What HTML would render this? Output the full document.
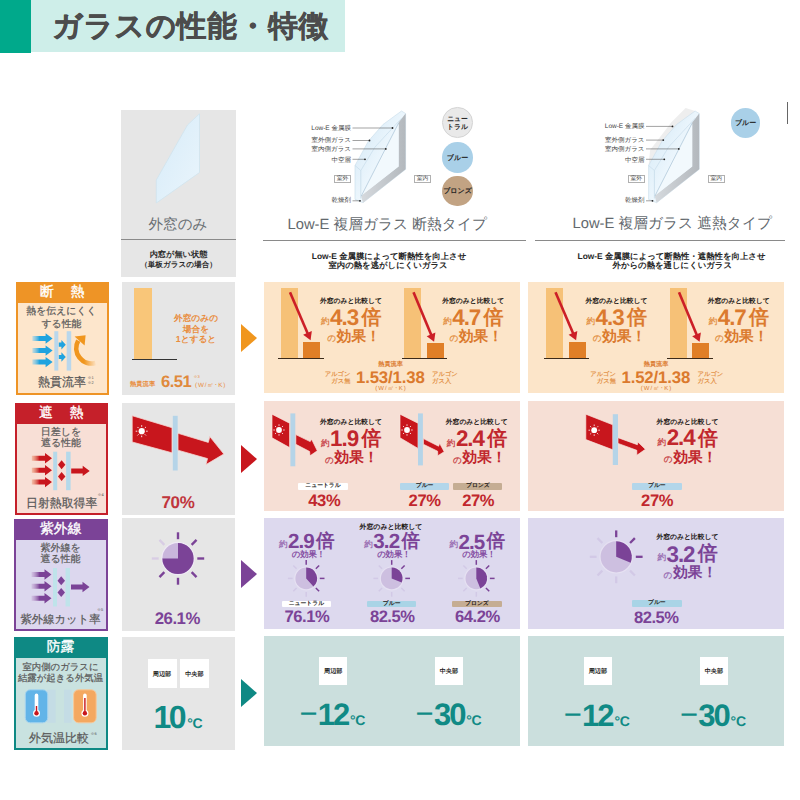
<!DOCTYPE html>
<html lang="ja">
<head>
<meta charset="utf-8">
<title>ガラスの性能・特徴</title>
<style>
*{box-sizing:border-box;margin:0;padding:0}
html,body{width:800px;height:800px;background:#fff;overflow:hidden}
body{position:relative;font-family:"Liberation Sans",sans-serif;color:#333;text-rendering:geometricPrecision}
.a{position:absolute}
svg{position:absolute;left:0;top:0;overflow:visible}
.tri{width:0;height:0;border-style:solid;border-color:transparent;border-width:14.5px 0 14.5px 16.5px;left:240.5px}
.lb{border:2.5px solid}
.lh{height:21px;color:#fff;font-size:13.8px;-webkit-text-stroke:0.35px #fff;line-height:20.5px;text-align:center;white-space:nowrap}
</style>
</head>
<body>
<!-- title -->
<div class="a" style="left:0.00px;top:0.00px;width:30.70px;height:52.60px;background:#00a98b;"></div>
<div class="a" style="left:30.70px;top:0.00px;width:314.60px;height:52.40px;background:#ceeee9;"></div>
<div class="a x" style="top:8.00px;font-size:29.6px;line-height:37.0px;color:#4c4c4c;white-space:nowrap;font-weight:bold;letter-spacing:0.85px;left:52.30px;-webkit-text-stroke:0.5px #4c4c4c;">ガラスの性能・特徴</div>
<!-- column headers -->
<div class="a" style="left:120.50px;top:110.00px;width:115.00px;height:167.00px;background:#e6e6e6;"></div>
<div class="a" style="left:120.50px;top:239.10px;width:115.00px;height:1.10px;background:#8a8a8a;"></div>
<div class="a" style="left:263.00px;top:239.50px;width:263.00px;height:1.10px;background:#8a8a8a;"></div>
<div class="a" style="left:535.00px;top:239.50px;width:250.00px;height:1.10px;background:#8a8a8a;"></div>
<div class="a" style="left:786.50px;top:102.00px;width:1.50px;height:22.00px;background:#666;"></div>
<!-- grid cells -->
<div class="a" style="left:122.30px;top:282.00px;width:112.70px;height:112.50px;background:#e6e6e6;"></div>
<div class="a" style="left:122.30px;top:402.50px;width:112.70px;height:112.30px;background:#e6e6e6;"></div>
<div class="a" style="left:122.30px;top:518.30px;width:112.70px;height:112.30px;background:#e6e6e6;"></div>
<div class="a" style="left:122.30px;top:636.70px;width:112.70px;height:113.30px;background:#e6e6e6;"></div>
<div class="a" style="left:264.00px;top:282.00px;width:256.00px;height:110.50px;background:#fce5c9;"></div>
<div class="a" style="left:528.30px;top:282.00px;width:255.70px;height:110.50px;background:#fce5c9;"></div>
<div class="a" style="left:264.00px;top:401.00px;width:256.00px;height:110.00px;background:#f6dfd5;"></div>
<div class="a" style="left:528.30px;top:401.00px;width:255.70px;height:110.00px;background:#f6dfd5;"></div>
<div class="a" style="left:264.00px;top:518.00px;width:256.00px;height:110.50px;background:#ddd9ee;"></div>
<div class="a" style="left:528.30px;top:518.00px;width:255.70px;height:110.50px;background:#ddd9ee;"></div>
<div class="a" style="left:264.00px;top:635.50px;width:256.00px;height:110.20px;background:#cbdfdd;"></div>
<div class="a" style="left:528.30px;top:635.50px;width:255.70px;height:110.20px;background:#cbdfdd;"></div>
<!-- row labels -->
<div class="a lb" style="left:16px;top:282px;width:92.5px;height:112.5px;border-color:#ee9426;background:#fde6cc"></div>
<div class="a lh" style="left:16px;top:282px;width:92.5px;background:#ee9426"><span style="letter-spacing:1.5px;margin-right:-1.5px">断　熱</span></div>
<div class="a lb" style="left:14.5px;top:402.5px;width:93.5px;height:112.5px;border-color:#c5202a;background:#f8dfd6"></div>
<div class="a lh" style="left:14.5px;top:402.5px;width:93.5px;background:#c5202a"><span style="letter-spacing:1.5px;margin-right:-1.5px">遮　熱</span></div>
<div class="a lb" style="left:14px;top:518.5px;width:93.5px;height:112.0px;border-color:#7b4397;background:#dcd7ee"></div>
<div class="a lh" style="left:14px;top:518.5px;width:93.5px;background:#7b4397">紫外線</div>
<div class="a lb" style="left:13.5px;top:637px;width:94.0px;height:113px;border-color:#0e8984;background:#c9e2e0"></div>
<div class="a lh" style="left:13.5px;top:637px;width:94.0px;background:#0e8984">防露</div>
<!-- triangles -->
<div class="a tri" style="top:323.5px;border-left-color:#f0961e"></div>
<div class="a tri" style="top:444.5px;border-left-color:#c8161d"></div>
<div class="a tri" style="top:560px;border-left-color:#7b4397"></div>
<div class="a tri" style="top:679px;border-left-color:#0e8984"></div>
<!-- label contents -->
<div class="a x" style="top:305.99px;font-size:9.9px;line-height:12.38px;color:#595959;white-space:nowrap;left:-88.50px;width:300px;text-align:center;-webkit-text-stroke:0.22px #595959;">熱を伝えにくく</div>
<div class="a x" style="top:318.70px;font-size:9.9px;line-height:12.38px;color:#595959;white-space:nowrap;left:-88.50px;width:300px;text-align:center;-webkit-text-stroke:0.22px #595959;">する性能</div>
<div class="a x" style="top:374.50px;font-size:12px;line-height:15.0px;color:#595959;white-space:nowrap;left:-88.00px;width:300px;text-align:center;-webkit-text-stroke:0.22px #595959;">熱貫流率</div>
<div class="a x" style="top:375.39px;font-size:4.0px;line-height:5.0px;color:#595959;white-space:nowrap;left:87.50px;">※1</div>
<div class="a x" style="top:380.00px;font-size:4.0px;line-height:5.0px;color:#595959;white-space:nowrap;left:87.50px;">※2</div>
<div class="a x" style="top:426.75px;font-size:10px;line-height:12.5px;color:#595959;white-space:nowrap;left:-89.00px;width:300px;text-align:center;-webkit-text-stroke:0.22px #595959;">日差しを</div>
<div class="a x" style="top:437.93px;font-size:10px;line-height:12.5px;color:#595959;white-space:nowrap;left:-89.00px;width:300px;text-align:center;-webkit-text-stroke:0.22px #595959;">遮る性能</div>
<div class="a x" style="top:495.53px;font-size:11.9px;line-height:14.88px;color:#595959;white-space:nowrap;left:-88.30px;width:300px;text-align:center;-webkit-text-stroke:0.22px #595959;">日射熱取得率</div>
<div class="a x" style="top:492.00px;font-size:4.0px;line-height:5.0px;color:#595959;white-space:nowrap;left:97.50px;">※4</div>
<div class="a x" style="top:542.75px;font-size:10px;line-height:12.5px;color:#595959;white-space:nowrap;left:-89.50px;width:300px;text-align:center;-webkit-text-stroke:0.22px #595959;">紫外線を</div>
<div class="a x" style="top:554.25px;font-size:10px;line-height:12.5px;color:#595959;white-space:nowrap;left:-89.50px;width:300px;text-align:center;-webkit-text-stroke:0.22px #595959;">遮る性能</div>
<div class="a x" style="top:613.44px;font-size:11.3px;line-height:14.12px;color:#595959;white-space:nowrap;left:-89.50px;width:300px;text-align:center;-webkit-text-stroke:0.22px #595959;">紫外線カット率</div>
<div class="a x" style="top:607.00px;font-size:4.0px;line-height:5.0px;color:#595959;white-space:nowrap;left:97.00px;">※5</div>
<div class="a x" style="top:661.11px;font-size:9.4px;line-height:11.75px;color:#595959;white-space:nowrap;left:-89.50px;width:300px;text-align:center;-webkit-text-stroke:0.22px #595959;">室内側のガラスに</div>
<div class="a x" style="top:671.98px;font-size:9.4px;line-height:11.75px;color:#595959;white-space:nowrap;left:-89.50px;width:300px;text-align:center;-webkit-text-stroke:0.22px #595959;">結露が起きる外気温</div>
<div class="a x" style="top:730.50px;font-size:12px;line-height:15.0px;color:#595959;white-space:nowrap;left:-91.00px;width:300px;text-align:center;-webkit-text-stroke:0.22px #595959;">外気温比較</div>
<div class="a x" style="top:731.00px;font-size:4.0px;line-height:5.0px;color:#595959;white-space:nowrap;left:90.50px;">※6</div>
<svg width="800" height="800" viewBox="0 0 800 800">
<defs>
<linearGradient id="gb" gradientUnits="userSpaceOnUse" x1="30" x2="39.5" y1="0" y2="0"><stop offset="0" stop-color="#9ad6f3" stop-opacity="0.25"/><stop offset="1" stop-color="#1fa3df"/></linearGradient>
<linearGradient id="gr" gradientUnits="userSpaceOnUse" x1="30" x2="39.5" y1="0" y2="0"><stop offset="0" stop-color="#f3a66f" stop-opacity="0.25"/><stop offset="1" stop-color="#c8161d"/></linearGradient>
<linearGradient id="gp" gradientUnits="userSpaceOnUse" x1="30" x2="39.5" y1="0" y2="0"><stop offset="0" stop-color="#cfb3dc" stop-opacity="0.25"/><stop offset="1" stop-color="#7b4397"/></linearGradient>
<linearGradient id="go" gradientUnits="userSpaceOnUse" x1="84" x2="96.5" y1="0" y2="0"><stop offset="0" stop-color="#f0961e"/><stop offset="1" stop-color="#f0961e" stop-opacity="0"/></linearGradient>
</defs>
<rect x="54.3" y="331.2" width="4" height="39.4" fill="#b9d7ec"/><rect x="66.7" y="331.2" width="4.5" height="39.4" fill="#b9d7ec"/>
<path d="M32.4 336.0H45.6V333.3L52.6 338.5L45.6 343.7V341.0H32.4Z" fill="url(#gb)"/>
<path d="M32.4 348.1H45.6V345.4L52.6 350.6L45.6 355.8V353.1H32.4Z" fill="url(#gb)"/>
<path d="M32.4 359.6H45.6V356.9L52.6 362.1L45.6 367.3V364.6H32.4Z" fill="url(#gb)"/>
<path d="M58.8 342.59999999999997H61.4V340.0L65.8 344.7L61.4 349.4V346.8H58.8Z" fill="#1fa3df"/>
<path d="M58.8 354.9H61.4V352.3L65.8 357.0L61.4 361.7V359.1H58.8Z" fill="#1fa3df"/>
<path d="M95.5 363.0A15.4 15.4 0 0 1 78.2 340.6" fill="none" stroke="url(#go)" stroke-width="4.7"/>
<path d="M74.6 336.6L85.6 335.2L84.6 345.6Z" fill="#f0961e"/>
<rect x="53.2" y="451.7" width="4" height="38.5" fill="#b5d9ea"/><rect x="66.1" y="451.7" width="4.5" height="38.5" fill="#b5d9ea"/>
<path d="M31.8 455.8H45.0V453.1L52.0 458.3L45.0 463.5V460.8H31.8Z" fill="url(#gr)"/>
<path d="M31.8 467.8H45.0V465.1L52.0 470.3L45.0 475.5V472.8H31.8Z" fill="url(#gr)"/>
<path d="M31.8 479.6H45.0V476.9L52.0 482.1L45.0 487.3V484.6H31.8Z" fill="url(#gr)"/>
<path d="M58 464.7L61.6 460.2L65.4 464.7L61.6 469.2Z" fill="#c8161d"/>
<path d="M58 476.5L61.6 472.0L65.4 476.5L61.6 481.0Z" fill="#c8161d"/>
<path d="M71.2 468.4H82.7V465.7L89.7 470.9L82.7 476.1V473.4H71.2Z" fill="#c8161d"/>
<rect x="53" y="568" width="4" height="38.5" fill="#bfe3ea"/><rect x="65.5" y="568" width="4.5" height="38.5" fill="#bfe3ea"/>
<path d="M31.5 572.0H44.5V569.3L51.5 574.5L44.5 579.7V577.0H31.5Z" fill="url(#gp)"/>
<path d="M31.5 583.8H44.5V581.1L51.5 586.3L44.5 591.5V588.8H31.5Z" fill="url(#gp)"/>
<path d="M31.5 595.8H44.5V593.1L51.5 598.3L44.5 603.5V600.8H31.5Z" fill="url(#gp)"/>
<path d="M57.5 580.8L61.2 576.3L65 580.8L61.2 585.3Z" fill="#7b4397"/>
<path d="M57.5 592.5L61.2 588.0L65 592.5L61.2 597.0Z" fill="#7b4397"/>
<path d="M71.0 584.5H82.5V581.8L89.5 587.0L82.5 592.2V589.5H71.0Z" fill="#7b4397"/>
<rect x="47" y="689.8" width="8.7" height="33" fill="#c3dbe6" opacity="0.8"/><rect x="64" y="689.8" width="7.5" height="33" fill="#c3dbe6" opacity="0.8"/>
<rect x="25.3" y="689.8" width="22.4" height="33" rx="5" fill="#62b4e8" stroke="#a6d4ef" stroke-width="1"/>
<rect x="73.6" y="689.8" width="22.6" height="33" rx="5" fill="#f4a860" stroke="#f6c99b" stroke-width="1"/>
<rect x="34.7" y="693.6" width="3.6" height="19" rx="1.8" fill="#fff"/><circle cx="36.5" cy="713.2" r="3.5" fill="#fff"/>
<rect x="83.10000000000001" y="693.6" width="3.6" height="19" rx="1.8" fill="#fff"/><circle cx="84.9" cy="713.2" r="3.5" fill="#fff"/>
<rect x="35.8" y="706" width="1.4" height="7" fill="#c8161d"/><circle cx="36.5" cy="713.2" r="2.2" fill="#c8161d"/>
<rect x="84.2" y="698" width="1.4" height="15" fill="#c8161d"/><circle cx="84.9" cy="713.2" r="2.2" fill="#c8161d"/>
</svg>
<!-- col2 -->
<div class="a x" style="top:216.38px;font-size:14.6px;line-height:18.25px;color:#6a7074;white-space:nowrap;left:28.00px;width:300px;text-align:center;">外窓のみ</div>
<div class="a x" style="top:249.77px;font-size:8.2px;line-height:10.25px;color:#2b2b2b;white-space:nowrap;font-weight:bold;left:28.50px;width:300px;text-align:center;">内窓が無い状態</div>
<div class="a x" style="top:260.14px;font-size:7.6px;line-height:9.5px;color:#2b2b2b;white-space:nowrap;font-weight:bold;left:28.50px;width:300px;text-align:center;">（単板ガラスの場合）</div>
<div class="a" style="left:133.70px;top:288.20px;width:18.10px;height:70.60px;background:#f9c679;"></div>
<div class="a" style="left:131.50px;top:358.60px;width:45.80px;height:1.10px;background:#333;"></div>
<div class="a x" style="top:313.14px;font-size:8.7px;line-height:10.88px;color:#e98d3e;white-space:nowrap;font-weight:bold;left:46.00px;width:300px;text-align:center;">外窓のみの</div>
<div class="a x" style="top:324.14px;font-size:8.7px;line-height:10.88px;color:#e98d3e;white-space:nowrap;font-weight:bold;left:46.00px;width:300px;text-align:center;">場合を</div>
<div class="a x" style="top:333.95px;font-size:8.7px;line-height:10.88px;color:#e98d3e;white-space:nowrap;font-weight:bold;left:46.00px;width:300px;text-align:center;">1とすると</div>
<div class="a x" style="top:381.45px;font-size:6.3px;line-height:7.88px;color:#e98d3e;white-space:nowrap;font-weight:bold;left:130.00px;">熱貫流率</div>
<div class="a x" style="top:372.40px;font-size:16.6px;line-height:20.75px;color:#e08a3c;white-space:nowrap;font-weight:bold;letter-spacing:-0.55px;left:161.00px;">6.51</div>
<div class="a x" style="top:374.39px;font-size:4.0px;line-height:5.0px;color:#e98d3e;white-space:nowrap;left:193.50px;">※3</div>
<div class="a x" style="top:382.45px;font-size:6.3px;line-height:7.88px;color:#e98d3e;white-space:nowrap;letter-spacing:0.8px;left:195.00px;">(W/㎡･K)</div>
<div class="a x" style="top:491.95px;font-size:17px;line-height:21.25px;color:#c0353c;white-space:nowrap;font-weight:bold;letter-spacing:-0.3px;left:28.00px;width:300px;text-align:center;">70%</div>
<div class="a x" style="top:607.89px;font-size:16.8px;line-height:21.0px;color:#7b4397;white-space:nowrap;font-weight:bold;letter-spacing:-0.5px;left:27.30px;width:300px;text-align:center;">26.1%</div>
<div class="a" style="left:147.50px;top:658.50px;width:29.00px;height:29.30px;background:#fff;"></div>
<div class="a" style="left:179.80px;top:658.50px;width:29.20px;height:29.30px;background:#fff;"></div>
<div class="a x" style="top:670.69px;font-size:6.1px;line-height:7.62px;color:#222;white-space:nowrap;font-weight:bold;left:12.00px;width:300px;text-align:center;">周辺部</div>
<div class="a x" style="top:670.69px;font-size:6.1px;line-height:7.62px;color:#222;white-space:nowrap;font-weight:bold;left:44.40px;width:300px;text-align:center;">中央部</div>
<div class="a" style="left:153.4px;top:697px;white-space:nowrap;color:#108a85;font-weight:bold;font-size:32px;line-height:40px;letter-spacing:-2.4px">10<span style="font-size:14px;letter-spacing:-0.3px;margin-left:3.0px">°C</span></div>
<svg width="800" height="800" viewBox="0 0 800 800">
<defs><linearGradient id="gl1" x1="0" y1="0" x2="1" y2="1"><stop offset="0" stop-color="#d6ebf8"/><stop offset="1" stop-color="#eaf5fc"/></linearGradient></defs>
<path d="M199.5 113.8V172.5L156.3 203V180L187.5 125Z" fill="url(#gl1)" stroke="#cfe3ee" stroke-width="0.8"/>
<path d="M132.2 415.7L172 427.7V452.8L132.2 442Z" fill="#c8161d" stroke="#f6d3cf" stroke-width="0.8"/>
<rect x="172.8" y="415.8" width="4.9" height="54.7" fill="#b5d4e8"/>
<path d="M178 433.3L208.3 442.4L209.8 436.6L223.8 454L206 464.6L207.5 458.6L178 450.2Z" fill="#c8161d" stroke="#f6d3cf" stroke-width="0.8"/>
<circle cx="141.7" cy="431.2" r="3.1" fill="#fff"/><line x1="146.10" y1="431.20" x2="147.70" y2="431.20" stroke="#fff" stroke-width="0.9"/><line x1="144.81" y1="434.31" x2="145.94" y2="435.44" stroke="#fff" stroke-width="0.9"/><line x1="141.70" y1="435.60" x2="141.70" y2="437.20" stroke="#fff" stroke-width="0.9"/><line x1="138.59" y1="434.31" x2="137.46" y2="435.44" stroke="#fff" stroke-width="0.9"/><line x1="137.30" y1="431.20" x2="135.70" y2="431.20" stroke="#fff" stroke-width="0.9"/><line x1="138.59" y1="428.09" x2="137.46" y2="426.96" stroke="#fff" stroke-width="0.9"/><line x1="141.70" y1="426.80" x2="141.70" y2="425.20" stroke="#fff" stroke-width="0.9"/><line x1="144.81" y1="428.09" x2="145.94" y2="426.96" stroke="#fff" stroke-width="0.9"/>
<circle cx="178" cy="558.5" r="16.8" fill="#efe9f5"/><circle cx="178" cy="558.5" r="15.6" fill="#c9b6dc"/><path d="M178 558.5L178 542.9A15.6 15.6 0 1 1 162.40 558.50Z" fill="#7b4397"/><line x1="178.00" y1="539.20" x2="178.00" y2="532.30" stroke="#7b4397" stroke-width="2.4" stroke-linecap="butt"/><line x1="191.65" y1="544.85" x2="196.53" y2="539.97" stroke="#7b4397" stroke-width="2.4" stroke-linecap="butt"/><line x1="197.30" y1="558.50" x2="204.20" y2="558.50" stroke="#7b4397" stroke-width="2.4" stroke-linecap="butt"/><line x1="191.65" y1="572.15" x2="196.53" y2="577.03" stroke="#7b4397" stroke-width="2.4" stroke-linecap="butt"/><line x1="178.00" y1="577.80" x2="178.00" y2="584.70" stroke="#7b4397" stroke-width="2.4" stroke-linecap="butt"/><line x1="164.35" y1="572.15" x2="159.47" y2="577.03" stroke="#7b4397" stroke-width="2.4" stroke-linecap="butt"/><line x1="158.70" y1="558.50" x2="151.80" y2="558.50" stroke="#d8cde4" stroke-width="2.4" stroke-linecap="butt"/><line x1="164.35" y1="544.85" x2="159.47" y2="539.97" stroke="#d8cde4" stroke-width="2.4" stroke-linecap="butt"/>
</svg>
<!-- col3/4 headers -->
<div class="a x" style="top:216.36px;font-size:14.75px;line-height:18.44px;color:#62686d;white-space:nowrap;left:237.30px;width:300px;text-align:center;">Low-E 複層ガラス 断熱タイプ</div>
<div class="a x" style="top:214.96px;font-size:14.75px;line-height:18.44px;color:#62686d;white-space:nowrap;left:522.30px;width:300px;text-align:center;">Low-E 複層ガラス 遮熱タイプ</div>
<div class="a x" style="top:250.75px;font-size:8.4px;line-height:10.5px;color:#262626;white-space:nowrap;font-weight:bold;left:239.00px;width:300px;text-align:center;">Low-E 金属膜によって断熱性を向上させ</div>
<div class="a x" style="top:260.33px;font-size:8.4px;line-height:10.5px;color:#262626;white-space:nowrap;font-weight:bold;left:238.00px;width:300px;text-align:center;">室内の熱を逃がしにくいガラス</div>
<div class="a x" style="top:250.75px;font-size:8.4px;line-height:10.5px;color:#262626;white-space:nowrap;font-weight:bold;left:521.50px;width:300px;text-align:center;">Low-E 金属膜によって断熱性・遮熱性を向上させ</div>
<div class="a x" style="top:260.33px;font-size:8.4px;line-height:10.5px;color:#262626;white-space:nowrap;font-weight:bold;left:522.30px;width:300px;text-align:center;">外からの熱を通しにくいガラス</div>
<div class="a x" style="top:124.94px;font-size:6.5px;line-height:8.12px;color:#444;white-space:nowrap;left:51.00px;width:300px;text-align:right;">Low-E 金属膜</div>
<div class="a x" style="top:137.44px;font-size:6.5px;line-height:8.12px;color:#444;white-space:nowrap;left:51.00px;width:300px;text-align:right;">室外側ガラス</div>
<div class="a x" style="top:145.62px;font-size:6.5px;line-height:8.12px;color:#444;white-space:nowrap;left:51.00px;width:300px;text-align:right;">室内側ガラス</div>
<div class="a x" style="top:156.83px;font-size:6.5px;line-height:8.12px;color:#444;white-space:nowrap;left:51.00px;width:300px;text-align:right;">中空層</div>
<div class="a x" style="top:197.33px;font-size:6.5px;line-height:8.12px;color:#444;white-space:nowrap;left:51.00px;width:300px;text-align:right;">乾燥剤</div>
<div class="a x" style="top:123.12px;font-size:6.5px;line-height:8.12px;color:#444;white-space:nowrap;left:344.50px;width:300px;text-align:right;">Low-E 金属膜</div>
<div class="a x" style="top:137.23px;font-size:6.5px;line-height:8.12px;color:#444;white-space:nowrap;left:344.50px;width:300px;text-align:right;">室外側ガラス</div>
<div class="a x" style="top:145.62px;font-size:6.5px;line-height:8.12px;color:#444;white-space:nowrap;left:344.50px;width:300px;text-align:right;">室内側ガラス</div>
<div class="a x" style="top:156.83px;font-size:6.5px;line-height:8.12px;color:#444;white-space:nowrap;left:344.50px;width:300px;text-align:right;">中空層</div>
<div class="a x" style="top:197.33px;font-size:6.5px;line-height:8.12px;color:#444;white-space:nowrap;left:344.50px;width:300px;text-align:right;">乾燥剤</div>
<div class="a" style="left:333.8px;top:175px;width:17.399999999999977px;height:8.300000000000011px;background:#fff;border:0.6px solid #b0b0b0;font-size:5.8px;line-height:7.100000000000011px;text-align:center;color:#444;white-space:nowrap">室外</div>
<div class="a" style="left:413.8px;top:175px;width:17.399999999999977px;height:8.300000000000011px;background:#fff;border:0.6px solid #b0b0b0;font-size:5.8px;line-height:7.100000000000011px;text-align:center;color:#444;white-space:nowrap">室内</div>
<div class="a" style="left:627.5px;top:175px;width:17.5px;height:8.300000000000011px;background:#fff;border:0.6px solid #b0b0b0;font-size:5.8px;line-height:7.100000000000011px;text-align:center;color:#444;white-space:nowrap">室外</div>
<div class="a" style="left:707.5px;top:175px;width:17.5px;height:8.300000000000011px;background:#fff;border:0.6px solid #b0b0b0;font-size:5.8px;line-height:7.100000000000011px;text-align:center;color:#444;white-space:nowrap">室内</div>
<div class="a" style="left:442.2px;top:107.3px;width:30.6px;height:30.6px;border-radius:50%;background:#e9e9e9;border:0.8px solid #d4d4d4;"></div>
<div class="a" style="left:442.2px;top:142.39999999999998px;width:30.6px;height:30.6px;border-radius:50%;background:#a9d0e8;"></div>
<div class="a" style="left:442.2px;top:175.89999999999998px;width:30.6px;height:30.6px;border-radius:50%;background:#c2a383;"></div>
<div class="a" style="left:730.8000000000001px;top:108.0px;width:29.6px;height:29.6px;border-radius:50%;background:#a9d0e8;"></div>
<div class="a x" style="top:115.83px;font-size:6.8px;line-height:8.5px;color:#222;white-space:nowrap;font-weight:bold;left:307.50px;width:300px;text-align:center;">ニュー</div>
<div class="a x" style="top:123.83px;font-size:6.8px;line-height:8.5px;color:#222;white-space:nowrap;font-weight:bold;left:307.50px;width:300px;text-align:center;">トラル</div>
<div class="a x" style="top:154.70px;font-size:7px;line-height:8.75px;color:#222;white-space:nowrap;font-weight:bold;left:307.50px;width:300px;text-align:center;">ブルー</div>
<div class="a x" style="top:188.20px;font-size:7px;line-height:8.75px;color:#222;white-space:nowrap;font-weight:bold;left:307.50px;width:300px;text-align:center;">ブロンズ</div>
<div class="a x" style="top:119.98px;font-size:7px;line-height:8.75px;color:#222;white-space:nowrap;font-weight:bold;left:595.60px;width:300px;text-align:center;">ブルー</div>
<svg width="800" height="800" viewBox="0 0 800 800">
<defs><linearGradient id="gl2" x1="0" y1="0" x2="1" y2="1"><stop offset="0" stop-color="#cfe6f5"/><stop offset="0.55" stop-color="#eef7fd"/><stop offset="1" stop-color="#dcedf8"/></linearGradient><linearGradient id="gf" x1="0" y1="0" x2="1" y2="0"><stop offset="0" stop-color="#d6dade"/><stop offset="1" stop-color="#b3b8bd"/></linearGradient></defs>
<g transform="translate(0 0)"><path d="M355 165.5L368.5 141L383 124.5L401.5 111L405.6 113.5V169.3L363 202.7L355 199.4Z" fill="url(#gl2)" stroke="#c7dce9" stroke-width="0.6"/><path d="M398.6 122.5L405.6 113.5V169.3L363 202.7L361 195.8L398.6 166.6Z" fill="url(#gf)"/><path d="M398.6 124L398.6 166.6L361.5 195.5Z" fill="#f2f9fd"/><path d="M398.6 123L361.3 196" stroke="#a9c3d6" stroke-width="0.7" fill="none"/><path d="M360.8 170.5V198.5" stroke="#c3d9e7" stroke-width="0.7" fill="none"/><path d="M355 165.5L360.8 170.5L375 147L401.8 118" stroke="#c3d9e7" stroke-width="0.6" fill="none"/></g>
<path d="M942.6 0" fill="none"/><g transform="translate(293.6 0)"><path d="M355 165.5L356.5 150L378 122L392 108L401.5 111Z" fill="#ececec" opacity="0.9"/><path d="M355 165.5L368.5 141L383 124.5L401.5 111L405.6 113.5V169.3L363 202.7L355 199.4Z" fill="url(#gl2)" stroke="#c7dce9" stroke-width="0.6"/><path d="M398.6 122.5L405.6 113.5V169.3L363 202.7L361 195.8L398.6 166.6Z" fill="url(#gf)"/><path d="M398.6 124L398.6 166.6L361.5 195.5Z" fill="#f2f9fd"/><path d="M398.6 123L361.3 196" stroke="#a9c3d6" stroke-width="0.7" fill="none"/><path d="M360.8 170.5V198.5" stroke="#c3d9e7" stroke-width="0.7" fill="none"/><path d="M355 165.5L360.8 170.5L375 147L401.8 118" stroke="#c3d9e7" stroke-width="0.6" fill="none"/></g>
<line x1="352.5" y1="128" x2="392.5" y2="128" stroke="#444" stroke-width="0.5"/><circle cx="392.5" cy="128" r="0.9" fill="#222"/><line x1="352.5" y1="140.5" x2="369.5" y2="140.5" stroke="#444" stroke-width="0.5"/><circle cx="369.5" cy="140.5" r="0.9" fill="#222"/><line x1="352.5" y1="148.9" x2="385.8" y2="148.9" stroke="#444" stroke-width="0.5"/><circle cx="385.8" cy="148.9" r="0.9" fill="#222"/><line x1="352.5" y1="159.3" x2="365" y2="159.3" stroke="#444" stroke-width="0.5"/><circle cx="365" cy="159.3" r="0.9" fill="#222"/><line x1="352.5" y1="200.8" x2="360" y2="200.8" stroke="#444" stroke-width="0.5"/><circle cx="360" cy="200.8" r="0.9" fill="#222"/>
<line x1="646.0" y1="126.4" x2="672.5" y2="126.4" stroke="#444" stroke-width="0.5"/><circle cx="672.5" cy="126.4" r="0.9" fill="#222"/><line x1="646.0" y1="140.1" x2="663.3" y2="140.1" stroke="#444" stroke-width="0.5"/><circle cx="663.3" cy="140.1" r="0.9" fill="#222"/><line x1="646.0" y1="148.9" x2="678.8" y2="148.9" stroke="#444" stroke-width="0.5"/><circle cx="678.8" cy="148.9" r="0.9" fill="#222"/><line x1="646.0" y1="159.3" x2="664.3" y2="159.3" stroke="#444" stroke-width="0.5"/><circle cx="664.3" cy="159.3" r="0.9" fill="#222"/><line x1="646.0" y1="200.8" x2="652.5" y2="200.8" stroke="#444" stroke-width="0.5"/><circle cx="652.5" cy="200.8" r="0.9" fill="#222"/>
</svg>
<!-- row1 data -->
<div class="a" style="left:280.70px;top:288.20px;width:17.30px;height:69.80px;background:#f6c177;"></div>
<div class="a" style="left:303.40px;top:341.80px;width:17.10px;height:16.20px;background:#e07f27;"></div>
<div class="a" style="left:278.30px;top:357.80px;width:45.70px;height:1.10px;background:#3a2a1a;"></div>
<div class="a" style="left:404.20px;top:288.20px;width:17.30px;height:69.80px;background:#f6c177;"></div>
<div class="a" style="left:426.90px;top:343.40px;width:17.10px;height:14.60px;background:#e07f27;"></div>
<div class="a" style="left:401.80px;top:357.80px;width:45.70px;height:1.10px;background:#3a2a1a;"></div>
<div class="a x" style="top:298.22px;font-size:6.85px;line-height:8.56px;color:#231815;white-space:nowrap;font-weight:bold;letter-spacing:-0.05px;left:320.00px;">外窓のみと比較して</div>
<div class="a x" style="top:316.31px;font-size:8.6px;line-height:10.75px;color:#e3934a;white-space:nowrap;font-weight:bold;left:321.00px;">約</div>
<div class="a x" style="top:303.50px;font-size:22.4px;line-height:28.0px;color:#db7a2e;white-space:nowrap;font-weight:bold;letter-spacing:-1.05px;left:330.10px;">4.3</div>
<div class="a x" style="top:306.18px;font-size:20.0px;line-height:25.0px;color:#db7a2e;white-space:nowrap;font-weight:bold;left:361.40px;">倍</div>
<div class="a x" style="top:333.31px;font-size:8.6px;line-height:10.75px;color:#e3934a;white-space:nowrap;font-weight:bold;left:327.20px;">の</div>
<div class="a x" style="top:327.97px;font-size:14.6px;line-height:18.25px;color:#db7a2e;white-space:nowrap;font-weight:bold;letter-spacing:0.0px;left:336.80px;">効果！</div>
<div class="a x" style="top:298.22px;font-size:6.85px;line-height:8.56px;color:#231815;white-space:nowrap;font-weight:bold;letter-spacing:-0.05px;left:442.20px;">外窓のみと比較して</div>
<div class="a x" style="top:316.31px;font-size:8.6px;line-height:10.75px;color:#e3934a;white-space:nowrap;font-weight:bold;left:443.20px;">約</div>
<div class="a x" style="top:303.50px;font-size:22.4px;line-height:28.0px;color:#db7a2e;white-space:nowrap;font-weight:bold;letter-spacing:-1.05px;left:452.30px;">4.7</div>
<div class="a x" style="top:306.18px;font-size:20.0px;line-height:25.0px;color:#db7a2e;white-space:nowrap;font-weight:bold;left:483.60px;">倍</div>
<div class="a x" style="top:333.31px;font-size:8.6px;line-height:10.75px;color:#e3934a;white-space:nowrap;font-weight:bold;left:449.40px;">の</div>
<div class="a x" style="top:327.97px;font-size:14.6px;line-height:18.25px;color:#db7a2e;white-space:nowrap;font-weight:bold;letter-spacing:0.0px;left:459.00px;">効果！</div>
<div class="a x" style="top:360.61px;font-size:6.2px;line-height:7.75px;color:#db7a2e;white-space:nowrap;font-weight:bold;left:240.60px;width:300px;text-align:center;">熱貫流率</div>
<div class="a x" style="top:370.74px;font-size:6.3px;line-height:7.88px;color:#e3934a;white-space:nowrap;font-weight:bold;left:50.50px;width:300px;text-align:right;">アルゴン</div>
<div class="a x" style="top:377.74px;font-size:6.3px;line-height:7.88px;color:#e3934a;white-space:nowrap;font-weight:bold;left:50.50px;width:300px;text-align:right;">ガス無</div>
<div class="a x" style="top:370.74px;font-size:6.3px;line-height:7.88px;color:#e3934a;white-space:nowrap;font-weight:bold;left:432.00px;">アルゴン</div>
<div class="a x" style="top:377.74px;font-size:6.3px;line-height:7.88px;color:#e3934a;white-space:nowrap;font-weight:bold;left:432.00px;">ガス入</div>
<div class="a x" style="top:367.29px;font-size:16.8px;line-height:21.0px;color:#db7a2e;white-space:nowrap;font-weight:bold;letter-spacing:-0.15px;left:240.30px;width:300px;text-align:center;">1.53/1.38</div>
<div class="a x" style="top:386.25px;font-size:6px;line-height:7.5px;color:#db7a2e;white-space:nowrap;letter-spacing:1.0px;left:241.00px;width:300px;text-align:center;">(W/㎡･K)</div>
<div class="a" style="left:546.20px;top:288.20px;width:17.30px;height:69.80px;background:#f6c177;"></div>
<div class="a" style="left:568.90px;top:341.80px;width:17.10px;height:16.20px;background:#e07f27;"></div>
<div class="a" style="left:543.80px;top:357.80px;width:45.70px;height:1.10px;background:#3a2a1a;"></div>
<div class="a" style="left:669.70px;top:288.20px;width:17.30px;height:69.80px;background:#f6c177;"></div>
<div class="a" style="left:692.40px;top:343.40px;width:17.10px;height:14.60px;background:#e07f27;"></div>
<div class="a" style="left:667.30px;top:357.80px;width:45.70px;height:1.10px;background:#3a2a1a;"></div>
<div class="a x" style="top:298.22px;font-size:6.85px;line-height:8.56px;color:#231815;white-space:nowrap;font-weight:bold;letter-spacing:-0.05px;left:585.50px;">外窓のみと比較して</div>
<div class="a x" style="top:316.31px;font-size:8.6px;line-height:10.75px;color:#e3934a;white-space:nowrap;font-weight:bold;left:586.50px;">約</div>
<div class="a x" style="top:303.50px;font-size:22.4px;line-height:28.0px;color:#db7a2e;white-space:nowrap;font-weight:bold;letter-spacing:-1.05px;left:595.60px;">4.3</div>
<div class="a x" style="top:306.18px;font-size:20.0px;line-height:25.0px;color:#db7a2e;white-space:nowrap;font-weight:bold;left:626.90px;">倍</div>
<div class="a x" style="top:333.31px;font-size:8.6px;line-height:10.75px;color:#e3934a;white-space:nowrap;font-weight:bold;left:592.70px;">の</div>
<div class="a x" style="top:327.97px;font-size:14.6px;line-height:18.25px;color:#db7a2e;white-space:nowrap;font-weight:bold;letter-spacing:0.0px;left:602.30px;">効果！</div>
<div class="a x" style="top:298.22px;font-size:6.85px;line-height:8.56px;color:#231815;white-space:nowrap;font-weight:bold;letter-spacing:-0.05px;left:707.70px;">外窓のみと比較して</div>
<div class="a x" style="top:316.31px;font-size:8.6px;line-height:10.75px;color:#e3934a;white-space:nowrap;font-weight:bold;left:708.70px;">約</div>
<div class="a x" style="top:303.50px;font-size:22.4px;line-height:28.0px;color:#db7a2e;white-space:nowrap;font-weight:bold;letter-spacing:-1.05px;left:717.80px;">4.7</div>
<div class="a x" style="top:306.18px;font-size:20.0px;line-height:25.0px;color:#db7a2e;white-space:nowrap;font-weight:bold;left:749.10px;">倍</div>
<div class="a x" style="top:333.31px;font-size:8.6px;line-height:10.75px;color:#e3934a;white-space:nowrap;font-weight:bold;left:714.90px;">の</div>
<div class="a x" style="top:327.97px;font-size:14.6px;line-height:18.25px;color:#db7a2e;white-space:nowrap;font-weight:bold;letter-spacing:0.0px;left:724.50px;">効果！</div>
<div class="a x" style="top:360.61px;font-size:6.2px;line-height:7.75px;color:#db7a2e;white-space:nowrap;font-weight:bold;left:506.10px;width:300px;text-align:center;">熱貫流率</div>
<div class="a x" style="top:370.74px;font-size:6.3px;line-height:7.88px;color:#e3934a;white-space:nowrap;font-weight:bold;left:316.00px;width:300px;text-align:right;">アルゴン</div>
<div class="a x" style="top:377.74px;font-size:6.3px;line-height:7.88px;color:#e3934a;white-space:nowrap;font-weight:bold;left:316.00px;width:300px;text-align:right;">ガス無</div>
<div class="a x" style="top:370.74px;font-size:6.3px;line-height:7.88px;color:#e3934a;white-space:nowrap;font-weight:bold;left:697.50px;">アルゴン</div>
<div class="a x" style="top:377.74px;font-size:6.3px;line-height:7.88px;color:#e3934a;white-space:nowrap;font-weight:bold;left:697.50px;">ガス入</div>
<div class="a x" style="top:367.29px;font-size:16.8px;line-height:21.0px;color:#db7a2e;white-space:nowrap;font-weight:bold;letter-spacing:-0.15px;left:505.80px;width:300px;text-align:center;">1.52/1.38</div>
<div class="a x" style="top:386.25px;font-size:6px;line-height:7.5px;color:#db7a2e;white-space:nowrap;letter-spacing:1.0px;left:506.50px;width:300px;text-align:center;">(W/㎡･K)</div>
<svg width="800" height="800" viewBox="0 0 800 800"><line x1="290.0" y1="292.2" x2="307.8" y2="333.8" stroke="#cc1f27" stroke-width="2.6"/><path d="M310.6 340.2L303.1 334.7L311.8 331.0Z" fill="#cc1f27"/><line x1="413.5" y1="292.2" x2="431.4" y2="335.3" stroke="#cc1f27" stroke-width="2.6"/><path d="M434.1 341.8L426.7 336.2L435.4 332.6Z" fill="#cc1f27"/><line x1="555.5" y1="292.2" x2="573.3" y2="333.8" stroke="#cc1f27" stroke-width="2.6"/><path d="M576.1 340.2L568.6 334.7L577.3 331.0Z" fill="#cc1f27"/><line x1="679.0" y1="292.2" x2="696.9" y2="335.3" stroke="#cc1f27" stroke-width="2.6"/><path d="M699.6 341.8L692.2 336.2L700.9 332.6Z" fill="#cc1f27"/></svg>
<!-- row2 data -->
<div class="a x" style="top:419.40px;font-size:6.85px;line-height:8.56px;color:#231815;white-space:nowrap;font-weight:bold;letter-spacing:-0.05px;left:320.00px;">外窓のみと比較して</div>
<div class="a x" style="top:437.51px;font-size:8.6px;line-height:10.75px;color:#c94a4e;white-space:nowrap;font-weight:bold;left:321.00px;">約</div>
<div class="a x" style="top:424.68px;font-size:22.4px;line-height:28.0px;color:#c1272d;white-space:nowrap;font-weight:bold;letter-spacing:-1.05px;left:330.10px;">1.9</div>
<div class="a x" style="top:427.39px;font-size:20.0px;line-height:25.0px;color:#c1272d;white-space:nowrap;font-weight:bold;left:361.40px;">倍</div>
<div class="a x" style="top:454.51px;font-size:8.6px;line-height:10.75px;color:#c94a4e;white-space:nowrap;font-weight:bold;left:325.00px;">の</div>
<div class="a x" style="top:449.15px;font-size:14.6px;line-height:18.25px;color:#c1272d;white-space:nowrap;font-weight:bold;letter-spacing:0.0px;left:334.60px;">効果！</div>
<div class="a x" style="top:419.40px;font-size:6.85px;line-height:8.56px;color:#231815;white-space:nowrap;font-weight:bold;letter-spacing:-0.05px;left:445.80px;">外窓のみと比較して</div>
<div class="a x" style="top:437.51px;font-size:8.6px;line-height:10.75px;color:#c94a4e;white-space:nowrap;font-weight:bold;left:446.80px;">約</div>
<div class="a x" style="top:424.68px;font-size:22.4px;line-height:28.0px;color:#c1272d;white-space:nowrap;font-weight:bold;letter-spacing:-1.05px;left:455.90px;">2.4</div>
<div class="a x" style="top:427.39px;font-size:20.0px;line-height:25.0px;color:#c1272d;white-space:nowrap;font-weight:bold;left:487.20px;">倍</div>
<div class="a x" style="top:454.51px;font-size:8.6px;line-height:10.75px;color:#c94a4e;white-space:nowrap;font-weight:bold;left:453.00px;">の</div>
<div class="a x" style="top:449.15px;font-size:14.6px;line-height:18.25px;color:#c1272d;white-space:nowrap;font-weight:bold;letter-spacing:0.0px;left:462.60px;">効果！</div>
<div class="a x" style="top:419.11px;font-size:6.85px;line-height:8.56px;color:#231815;white-space:nowrap;font-weight:bold;letter-spacing:-0.05px;left:656.60px;">外窓のみと比較して</div>
<div class="a x" style="top:437.20px;font-size:8.6px;line-height:10.75px;color:#c94a4e;white-space:nowrap;font-weight:bold;left:657.60px;">約</div>
<div class="a x" style="top:424.39px;font-size:22.4px;line-height:28.0px;color:#c1272d;white-space:nowrap;font-weight:bold;letter-spacing:-1.05px;left:666.70px;">2.4</div>
<div class="a x" style="top:427.08px;font-size:20.0px;line-height:25.0px;color:#c1272d;white-space:nowrap;font-weight:bold;left:698.00px;">倍</div>
<div class="a x" style="top:454.20px;font-size:8.6px;line-height:10.75px;color:#c94a4e;white-space:nowrap;font-weight:bold;left:663.80px;">の</div>
<div class="a x" style="top:448.88px;font-size:14.6px;line-height:18.25px;color:#c1272d;white-space:nowrap;font-weight:bold;letter-spacing:0.0px;left:673.40px;">効果！</div>
<div class="a" style="left:298px;top:483.2px;width:50px;height:6.699999999999989px;background:#fff;font-size:5.8px;line-height:6.699999999999989px;font-weight:bold;text-align:center;color:#231815;white-space:nowrap;border-radius:1px">ニュートラル</div>
<div class="a" style="left:400px;top:482.9px;width:49.19999999999999px;height:7.0px;background:#b3d6ea;font-size:5.8px;line-height:7.0px;font-weight:bold;text-align:center;color:#231815;white-space:nowrap;border-radius:1px">ブルー</div>
<div class="a" style="left:453.4px;top:482.9px;width:49.10000000000002px;height:7.0px;background:#c5ad93;font-size:5.8px;line-height:7.0px;font-weight:bold;text-align:center;color:#231815;white-space:nowrap;border-radius:1px">ブロンズ</div>
<div class="a" style="left:632px;top:482.6px;width:49.700000000000045px;height:7.0px;background:#b3d6ea;font-size:5.8px;line-height:7.0px;font-weight:bold;text-align:center;color:#231815;white-space:nowrap;border-radius:1px">ブルー</div>
<div class="a x" style="top:490.51px;font-size:16.6px;line-height:20.75px;color:#c1272d;white-space:nowrap;font-weight:bold;letter-spacing:-0.4px;left:174.30px;width:300px;text-align:center;">43%</div>
<div class="a x" style="top:490.51px;font-size:16.6px;line-height:20.75px;color:#c1272d;white-space:nowrap;font-weight:bold;letter-spacing:-0.4px;left:274.60px;width:300px;text-align:center;">27%</div>
<div class="a x" style="top:490.51px;font-size:16.6px;line-height:20.75px;color:#c1272d;white-space:nowrap;font-weight:bold;letter-spacing:-0.4px;left:328.20px;width:300px;text-align:center;">27%</div>
<div class="a x" style="top:490.80px;font-size:16.6px;line-height:20.75px;color:#c1272d;white-space:nowrap;font-weight:bold;letter-spacing:-0.4px;left:507.10px;width:300px;text-align:center;">27%</div>
<svg width="800" height="800" viewBox="0 0 800 800"><path d="M272 414.2L289.6 423.2V447.6L272 437.8Z" fill="#c8161d" stroke="#f9e6df" stroke-width="0.7"/><rect x="290.4" y="413.4" width="4.9" height="52.9" fill="#b5d4e8"/><path d="M295.8 434.6L310.2 441.6L311.6 439.2L317.3 450.8L310.0 455.8L309.6 451.5L295.8 444.3Z" fill="#c8161d" stroke="#f9e6df" stroke-width="0.7"/><circle cx="279" cy="430" r="2.9" fill="#fff"/><line x1="283.10" y1="430.00" x2="284.70" y2="430.00" stroke="#fff" stroke-width="0.8"/><line x1="281.90" y1="432.90" x2="283.03" y2="434.03" stroke="#fff" stroke-width="0.8"/><line x1="279.00" y1="434.10" x2="279.00" y2="435.70" stroke="#fff" stroke-width="0.8"/><line x1="276.10" y1="432.90" x2="274.97" y2="434.03" stroke="#fff" stroke-width="0.8"/><line x1="274.90" y1="430.00" x2="273.30" y2="430.00" stroke="#fff" stroke-width="0.8"/><line x1="276.10" y1="427.10" x2="274.97" y2="425.97" stroke="#fff" stroke-width="0.8"/><line x1="279.00" y1="425.90" x2="279.00" y2="424.30" stroke="#fff" stroke-width="0.8"/><line x1="281.90" y1="427.10" x2="283.03" y2="425.97" stroke="#fff" stroke-width="0.8"/><path d="M400 414.2L418 423.2V448.4L400 437.8Z" fill="#c8161d" stroke="#f9e6df" stroke-width="0.7"/><rect x="418" y="413.4" width="4.9" height="52" fill="#b5d4e8"/><path d="M423.4 438.6L438.6 446.2L439.6 443.3L444.2 451.7L437.8 455.8L437.6 451.2L423.4 444.3Z" fill="#c8161d" stroke="#f9e6df" stroke-width="0.7"/><circle cx="407" cy="430" r="2.9" fill="#fff"/><line x1="411.10" y1="430.00" x2="412.70" y2="430.00" stroke="#fff" stroke-width="0.8"/><line x1="409.90" y1="432.90" x2="411.03" y2="434.03" stroke="#fff" stroke-width="0.8"/><line x1="407.00" y1="434.10" x2="407.00" y2="435.70" stroke="#fff" stroke-width="0.8"/><line x1="404.10" y1="432.90" x2="402.97" y2="434.03" stroke="#fff" stroke-width="0.8"/><line x1="402.90" y1="430.00" x2="401.30" y2="430.00" stroke="#fff" stroke-width="0.8"/><line x1="404.10" y1="427.10" x2="402.97" y2="425.97" stroke="#fff" stroke-width="0.8"/><line x1="407.00" y1="425.90" x2="407.00" y2="424.30" stroke="#fff" stroke-width="0.8"/><line x1="409.90" y1="427.10" x2="411.03" y2="425.97" stroke="#fff" stroke-width="0.8"/><path d="M585.8 414.2L612.8 424.8V449.8L585.8 439.6Z" fill="#c8161d" stroke="#f9e6df" stroke-width="0.7"/><rect x="612.8" y="414.2" width="5.2" height="50.8" fill="#b5d4e8"/><path d="M618 437.7L637.4 444.7L637.9 442.0L645.4 449.3L636.8 455.3L636.8 450.3L618 443.4Z" fill="#c8161d" stroke="#f9e6df" stroke-width="0.7"/><circle cx="594.2" cy="430.2" r="2.9" fill="#fff"/><line x1="598.30" y1="430.20" x2="599.90" y2="430.20" stroke="#fff" stroke-width="0.8"/><line x1="597.10" y1="433.10" x2="598.23" y2="434.23" stroke="#fff" stroke-width="0.8"/><line x1="594.20" y1="434.30" x2="594.20" y2="435.90" stroke="#fff" stroke-width="0.8"/><line x1="591.30" y1="433.10" x2="590.17" y2="434.23" stroke="#fff" stroke-width="0.8"/><line x1="590.10" y1="430.20" x2="588.50" y2="430.20" stroke="#fff" stroke-width="0.8"/><line x1="591.30" y1="427.30" x2="590.17" y2="426.17" stroke="#fff" stroke-width="0.8"/><line x1="594.20" y1="426.10" x2="594.20" y2="424.50" stroke="#fff" stroke-width="0.8"/><line x1="597.10" y1="427.30" x2="598.23" y2="426.17" stroke="#fff" stroke-width="0.8"/></svg>
<!-- row3 data -->
<div class="a x" style="top:523.51px;font-size:6.95px;line-height:8.69px;color:#231815;white-space:nowrap;font-weight:bold;letter-spacing:-0.05px;left:359.60px;">外窓のみと比較して</div>
<div class="a x" style="top:539.22px;font-size:8.6px;line-height:10.75px;color:#9a6fb3;white-space:nowrap;font-weight:bold;left:279.00px;">約</div>
<div class="a x" style="top:528.80px;font-size:20.6px;line-height:25.75px;color:#7b4397;white-space:nowrap;font-weight:bold;letter-spacing:-0.85px;left:287.90px;">2.9</div>
<div class="a x" style="top:528.73px;font-size:18.6px;line-height:23.25px;color:#7b4397;white-space:nowrap;font-weight:bold;left:316.10px;">倍</div>
<div class="a x" style="top:549.14px;font-size:8.4px;line-height:10.5px;color:#8650a3;white-space:nowrap;font-weight:bold;letter-spacing:-0.1px;left:158.50px;width:300px;text-align:center;">の効果！</div>
<div class="a" style="left:281.7px;top:600.5px;width:49.400000000000034px;height:6.7999999999999545px;background:#fff;font-size:5.8px;line-height:6.7999999999999545px;font-weight:bold;text-align:center;color:#231815;white-space:nowrap;border-radius:1px">ニュートラル</div>
<div class="a x" style="top:607.42px;font-size:16.6px;line-height:20.75px;color:#7b4397;white-space:nowrap;font-weight:bold;letter-spacing:-0.5px;left:156.90px;width:300px;text-align:center;">76.1%</div>
<div class="a x" style="top:539.22px;font-size:8.6px;line-height:10.75px;color:#9a6fb3;white-space:nowrap;font-weight:bold;left:364.30px;">約</div>
<div class="a x" style="top:528.80px;font-size:20.6px;line-height:25.75px;color:#7b4397;white-space:nowrap;font-weight:bold;letter-spacing:-0.85px;left:373.20px;">3.2</div>
<div class="a x" style="top:528.73px;font-size:18.6px;line-height:23.25px;color:#7b4397;white-space:nowrap;font-weight:bold;left:401.40px;">倍</div>
<div class="a x" style="top:549.14px;font-size:8.4px;line-height:10.5px;color:#8650a3;white-space:nowrap;font-weight:bold;letter-spacing:-0.1px;left:243.80px;width:300px;text-align:center;">の効果！</div>
<div class="a" style="left:367.0px;top:600.5px;width:49.400000000000034px;height:6.7999999999999545px;background:#a9d4e6;font-size:5.8px;line-height:6.7999999999999545px;font-weight:bold;text-align:center;color:#231815;white-space:nowrap;border-radius:1px">ブルー</div>
<div class="a x" style="top:607.42px;font-size:16.6px;line-height:20.75px;color:#7b4397;white-space:nowrap;font-weight:bold;letter-spacing:-0.5px;left:242.20px;width:300px;text-align:center;">82.5%</div>
<div class="a x" style="top:539.22px;font-size:8.6px;line-height:10.75px;color:#9a6fb3;white-space:nowrap;font-weight:bold;left:449.50px;">約</div>
<div class="a x" style="top:529.80px;font-size:20.6px;line-height:25.75px;color:#7b4397;white-space:nowrap;font-weight:bold;letter-spacing:-0.85px;left:458.40px;">2.5</div>
<div class="a x" style="top:528.73px;font-size:18.6px;line-height:23.25px;color:#7b4397;white-space:nowrap;font-weight:bold;left:486.60px;">倍</div>
<div class="a x" style="top:549.14px;font-size:8.4px;line-height:10.5px;color:#8650a3;white-space:nowrap;font-weight:bold;letter-spacing:-0.1px;left:329.00px;width:300px;text-align:center;">の効果！</div>
<div class="a" style="left:452.2px;top:600.5px;width:49.400000000000034px;height:6.7999999999999545px;background:#c5ad93;font-size:5.8px;line-height:6.7999999999999545px;font-weight:bold;text-align:center;color:#231815;white-space:nowrap;border-radius:1px">ブロンズ</div>
<div class="a x" style="top:607.42px;font-size:16.6px;line-height:20.75px;color:#7b4397;white-space:nowrap;font-weight:bold;letter-spacing:-0.5px;left:327.40px;width:300px;text-align:center;">64.2%</div>
<div class="a x" style="top:534.31px;font-size:6.85px;line-height:8.56px;color:#231815;white-space:nowrap;font-weight:bold;letter-spacing:-0.05px;left:656.40px;">外窓のみと比較して</div>
<div class="a x" style="top:552.39px;font-size:8.6px;line-height:10.75px;color:#9a6fb3;white-space:nowrap;font-weight:bold;left:657.40px;">約</div>
<div class="a x" style="top:540.57px;font-size:22.4px;line-height:28.0px;color:#7b4397;white-space:nowrap;font-weight:bold;letter-spacing:-1.05px;left:666.50px;">3.2</div>
<div class="a x" style="top:542.29px;font-size:20.0px;line-height:25.0px;color:#7b4397;white-space:nowrap;font-weight:bold;left:697.80px;">倍</div>
<div class="a x" style="top:570.39px;font-size:8.6px;line-height:10.75px;color:#9a6fb3;white-space:nowrap;font-weight:bold;left:663.60px;">の</div>
<div class="a x" style="top:564.05px;font-size:14.6px;line-height:18.25px;color:#7b4397;white-space:nowrap;font-weight:bold;letter-spacing:0.0px;left:673.20px;">効果！</div>
<div class="a" style="left:632px;top:600.4px;width:49.700000000000045px;height:6.800000000000068px;background:#a9d4e6;font-size:5.8px;line-height:6.800000000000068px;font-weight:bold;text-align:center;color:#231815;white-space:nowrap;border-radius:1px">ブルー</div>
<div class="a x" style="top:607.72px;font-size:16.6px;line-height:20.75px;color:#7b4397;white-space:nowrap;font-weight:bold;letter-spacing:-0.5px;left:506.30px;width:300px;text-align:center;">82.5%</div>
<svg width="800" height="800" viewBox="0 0 800 800"><circle cx="306.2" cy="578.4" r="12.0" fill="#e6e1f2"/><circle cx="306.2" cy="578.4" r="10.8" fill="#cdbfe0"/><path d="M306.2 578.4L306.2 567.6A10.8 10.8 0 0 1 313.43 586.43Z" fill="#7b4397"/><line x1="306.20" y1="564.80" x2="306.20" y2="560.10" stroke="#7b4397" stroke-width="1.5" stroke-linecap="butt"/><line x1="315.82" y1="568.78" x2="319.14" y2="565.46" stroke="#7b4397" stroke-width="1.5" stroke-linecap="butt"/><line x1="319.80" y1="578.40" x2="324.50" y2="578.40" stroke="#7b4397" stroke-width="1.5" stroke-linecap="butt"/><line x1="315.82" y1="588.02" x2="319.14" y2="591.34" stroke="#7b4397" stroke-width="1.5" stroke-linecap="butt"/><line x1="306.20" y1="592.00" x2="306.20" y2="596.70" stroke="#d2c9e6" stroke-width="1.5" stroke-linecap="butt"/><line x1="296.58" y1="588.02" x2="293.26" y2="591.34" stroke="#d2c9e6" stroke-width="1.5" stroke-linecap="butt"/><line x1="292.60" y1="578.40" x2="287.90" y2="578.40" stroke="#d2c9e6" stroke-width="1.5" stroke-linecap="butt"/><line x1="296.58" y1="568.78" x2="293.26" y2="565.46" stroke="#d2c9e6" stroke-width="1.5" stroke-linecap="butt"/><circle cx="391.7" cy="578.4" r="12.0" fill="#e6e1f2"/><circle cx="391.7" cy="578.4" r="10.8" fill="#cdbfe0"/><path d="M391.7 578.4L391.7 567.6A10.8 10.8 0 0 1 401.71 582.45Z" fill="#7b4397"/><line x1="391.70" y1="564.80" x2="391.70" y2="560.10" stroke="#7b4397" stroke-width="1.5" stroke-linecap="butt"/><line x1="401.32" y1="568.78" x2="404.64" y2="565.46" stroke="#7b4397" stroke-width="1.5" stroke-linecap="butt"/><line x1="405.30" y1="578.40" x2="410.00" y2="578.40" stroke="#7b4397" stroke-width="1.5" stroke-linecap="butt"/><line x1="401.32" y1="588.02" x2="404.64" y2="591.34" stroke="#d2c9e6" stroke-width="1.5" stroke-linecap="butt"/><line x1="391.70" y1="592.00" x2="391.70" y2="596.70" stroke="#d2c9e6" stroke-width="1.5" stroke-linecap="butt"/><line x1="382.08" y1="588.02" x2="378.76" y2="591.34" stroke="#d2c9e6" stroke-width="1.5" stroke-linecap="butt"/><line x1="378.10" y1="578.40" x2="373.40" y2="578.40" stroke="#d2c9e6" stroke-width="1.5" stroke-linecap="butt"/><line x1="382.08" y1="568.78" x2="378.76" y2="565.46" stroke="#d2c9e6" stroke-width="1.5" stroke-linecap="butt"/><circle cx="476.3" cy="578.4" r="12.0" fill="#e6e1f2"/><circle cx="476.3" cy="578.4" r="10.8" fill="#cdbfe0"/><path d="M476.3 578.4L476.3 567.6A10.8 10.8 0 0 1 480.35 588.41Z" fill="#7b4397"/><line x1="476.30" y1="564.80" x2="476.30" y2="560.10" stroke="#7b4397" stroke-width="1.5" stroke-linecap="butt"/><line x1="485.92" y1="568.78" x2="489.24" y2="565.46" stroke="#7b4397" stroke-width="1.5" stroke-linecap="butt"/><line x1="489.90" y1="578.40" x2="494.60" y2="578.40" stroke="#7b4397" stroke-width="1.5" stroke-linecap="butt"/><line x1="485.92" y1="588.02" x2="489.24" y2="591.34" stroke="#7b4397" stroke-width="1.5" stroke-linecap="butt"/><line x1="476.30" y1="592.00" x2="476.30" y2="596.70" stroke="#d2c9e6" stroke-width="1.5" stroke-linecap="butt"/><line x1="466.68" y1="588.02" x2="463.36" y2="591.34" stroke="#d2c9e6" stroke-width="1.5" stroke-linecap="butt"/><line x1="462.70" y1="578.40" x2="458.00" y2="578.40" stroke="#d2c9e6" stroke-width="1.5" stroke-linecap="butt"/><line x1="466.68" y1="568.78" x2="463.36" y2="565.46" stroke="#d2c9e6" stroke-width="1.5" stroke-linecap="butt"/><circle cx="616.2" cy="556.8" r="16.8" fill="#e6e1f2"/><circle cx="616.2" cy="556.8" r="15.6" fill="#cdbfe0"/><path d="M616.2 556.8L616.2 541.1999999999999A15.6 15.6 0 0 1 630.66 562.64Z" fill="#7b4397"/><line x1="616.20" y1="537.20" x2="616.20" y2="530.40" stroke="#7b4397" stroke-width="2.3" stroke-linecap="butt"/><line x1="630.06" y1="542.94" x2="634.87" y2="538.13" stroke="#7b4397" stroke-width="2.3" stroke-linecap="butt"/><line x1="635.80" y1="556.80" x2="642.60" y2="556.80" stroke="#7b4397" stroke-width="2.3" stroke-linecap="butt"/><line x1="630.06" y1="570.66" x2="634.87" y2="575.47" stroke="#d2c9e6" stroke-width="2.3" stroke-linecap="butt"/><line x1="616.20" y1="576.40" x2="616.20" y2="583.20" stroke="#d2c9e6" stroke-width="2.3" stroke-linecap="butt"/><line x1="602.34" y1="570.66" x2="597.53" y2="575.47" stroke="#d2c9e6" stroke-width="2.3" stroke-linecap="butt"/><line x1="596.60" y1="556.80" x2="589.80" y2="556.80" stroke="#d2c9e6" stroke-width="2.3" stroke-linecap="butt"/><line x1="602.34" y1="542.94" x2="597.53" y2="538.13" stroke="#d2c9e6" stroke-width="2.3" stroke-linecap="butt"/></svg>
<!-- row4 data -->
<div class="a" style="left:319.30px;top:656.60px;width:27.90px;height:28.60px;background:#fff;"></div>
<div class="a x" style="top:667.87px;font-size:6.1px;line-height:7.62px;color:#222;white-space:nowrap;font-weight:bold;left:183.25px;width:300px;text-align:center;">周辺部</div>
<div class="a" style="left:434.80px;top:656.60px;width:28.20px;height:28.60px;background:#fff;"></div>
<div class="a x" style="top:667.87px;font-size:6.1px;line-height:7.62px;color:#222;white-space:nowrap;font-weight:bold;left:298.90px;width:300px;text-align:center;">中央部</div>
<div class="a" style="left:583.70px;top:657.20px;width:28.30px;height:28.30px;background:#fff;"></div>
<div class="a x" style="top:668.23px;font-size:6.1px;line-height:7.62px;color:#222;white-space:nowrap;font-weight:bold;left:447.85px;width:300px;text-align:center;">周辺部</div>
<div class="a" style="left:699.50px;top:657.20px;width:28.80px;height:28.30px;background:#fff;"></div>
<div class="a x" style="top:668.23px;font-size:6.1px;line-height:7.62px;color:#222;white-space:nowrap;font-weight:bold;left:563.90px;width:300px;text-align:center;">中央部</div>
<div class="a" style="left:299.4px;top:695.1px;white-space:nowrap;color:#108a85;font-weight:bold;font-size:31px;line-height:40px;letter-spacing:-2.0px"><span style="font-weight:normal;font-size:31px;letter-spacing:0;position:relative;top:-1.1px;margin-right:0.2px">−</span>12<span style="font-size:14px;letter-spacing:-0.3px;margin-left:1.8px">°C</span></div>
<div class="a" style="left:415.6px;top:695.1px;white-space:nowrap;color:#108a85;font-weight:bold;font-size:31px;line-height:40px;letter-spacing:-2.0px"><span style="font-weight:normal;font-size:31px;letter-spacing:0;position:relative;top:-1.1px;margin-right:0.2px">−</span>30<span style="font-size:14px;letter-spacing:-0.3px;margin-left:1.8px">°C</span></div>
<div class="a" style="left:563.8px;top:695.7px;white-space:nowrap;color:#108a85;font-weight:bold;font-size:31px;line-height:40px;letter-spacing:-2.0px"><span style="font-weight:normal;font-size:31px;letter-spacing:0;position:relative;top:-1.1px;margin-right:0.2px">−</span>12<span style="font-size:14px;letter-spacing:-0.3px;margin-left:1.8px">°C</span></div>
<div class="a" style="left:680.0px;top:695.7px;white-space:nowrap;color:#108a85;font-weight:bold;font-size:31px;line-height:40px;letter-spacing:-2.0px"><span style="font-weight:normal;font-size:31px;letter-spacing:0;position:relative;top:-1.1px;margin-right:0.2px">−</span>30<span style="font-size:14px;letter-spacing:-0.3px;margin-left:1.8px">°C</span></div>
</body>
</html>
